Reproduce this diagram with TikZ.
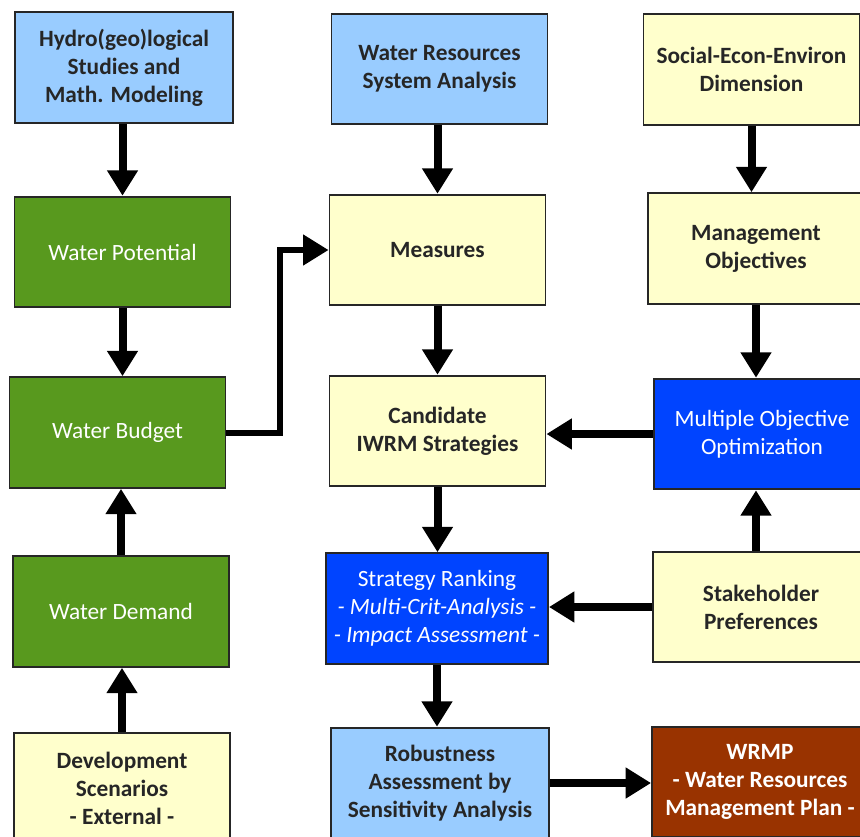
\documentclass[tikz,border=0pt]{standalone}
\usepackage{fontspec}
\setmainfont{Carlito}
\usetikzlibrary{arrows.meta}
\usetikzlibrary{positioning}

\definecolor{lightblue}{HTML}{99CCFF}
\definecolor{leafgreen}{HTML}{58991E}
\definecolor{paleyellow}{HTML}{FFFFCC}
\definecolor{strongblue}{HTML}{0044FF}
\definecolor{rust}{HTML}{993300}

\begin{document}
\begin{tikzpicture}[
  x=0.75pt, y=-0.75pt,
  > = {Triangle[width=22pt,length=19pt]},
  box/.style = {draw=black!85, line width=1.4pt, minimum width=162pt, minimum height=83pt,
                align=center, font=\fontsize{17.5}{21}\selectfont, inner sep=1pt},
  darkbox/.style = {box, font=\fontsize{17.5}{21}\selectfont\bfseries, text=black!85},
  flow/.style = {->, line width=6pt},
  link/.style = {->, line width=4.5pt}
  ]
	\useasboundingbox (0,0) rectangle (860,836);
	\clip (0,0) rectangle (860,836);

	% left column
	\node[darkbox,fill=lightblue,minimum width=163.5pt] (hydro) at (124,67.5) {Hydro(geo)logical\\Studies and\\Math. Modeling};
	\node[box,fill=leafgreen,text=white] (potential) at (122.5,252) {Water Potential};
	\node[box,fill=leafgreen,text=white] (budget) at (117.5,432.5) {Water Budget};
	\node[box,fill=leafgreen,text=white] (demand) at (121,611.5) {Water Demand};
	\node[darkbox,fill=paleyellow] (scenarios) at (122,788) {Development\\Scenarios\\- External -};

	% middle column
	\node[darkbox,fill=lightblue] (system) at (439.5,69) {Water Resources\\System Analysis};
	\node[darkbox,fill=paleyellow] (measures) at (437.5,250) {Measures};
	\node[darkbox,fill=paleyellow] (candidate) at (437.5,431) {Candidate\\IWRM Strategies};
	\node[box,fill=strongblue,text=white,minimum width=166.5pt] (ranking) at (437,608.5)
		{Strategy Ranking\\\textit{- Multi-Crit-Analysis -}\\\textit{- Impact Assessment -}};
	\node[darkbox,fill=lightblue,minimum width=163.5pt] (robust) at (440,783) {Robustness\\Assessment by\\Sensitivity Analysis};

	% right column
	\node[darkbox,fill=paleyellow] (social) at (751.5,69.5) {Social-Econ-Environ\\Dimension};
	\node[darkbox,fill=paleyellow] (objectives) at (756,248.5) {Management\\Objectives};
	\node[box,fill=strongblue,text=white] (optim) at (762,434) {Multiple Objective\\Optimization};
	\node[darkbox,fill=paleyellow] (stake) at (761,607) {Stakeholder\\Preferences};
	\node[darkbox,fill=rust,text=white] (wrmp) at (760,782) {WRMP\\- Water Resources\\Management Plan -};

	% connectors
	\draw[flow] (hydro.south -| potential) -- (potential.north);
	\draw[flow] (potential.south) -- (potential.south |- budget.north);
	\draw[flow] (demand.north) -- (demand.north |- budget.south);
	\draw[flow] (scenarios.north) -- (scenarios.north |- demand.south);
	\draw[link] (budget.east) -- (280,432.5) |- (measures.west);

	\draw[flow] (system.south -| measures) -- (measures.north);
	\draw[flow] (measures.south) -- (candidate.north);
	\draw[flow] (candidate.south) -- (candidate.south |- ranking.north);
	\draw[flow] (ranking.south) -- (ranking.south |- robust.north);
	\draw[flow] (robust.east) -- (robust.east -| wrmp.west);

	\draw[flow] (social.south) -- (social.south |- objectives.north);
	\draw[flow] (objectives.south) -- (objectives.south |- optim.north);
	\draw[flow] (optim.west) -- (optim.west -| candidate.east);
	\draw[flow] (stake.north -| objectives) -- (objectives |- optim.south);
	\draw[flow] (stake.west) -- (stake.west -| ranking.east);

\end{tikzpicture}
\end{document}
